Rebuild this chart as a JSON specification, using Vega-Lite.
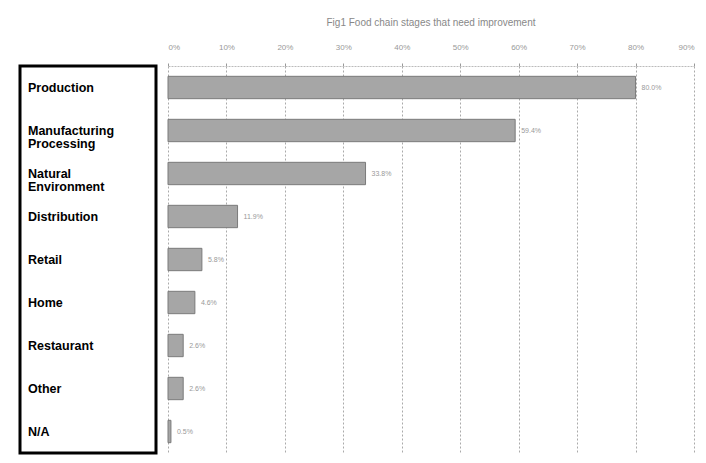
{
  "$schema": "https://vega.github.io/schema/vega-lite/v6.json",
  "background": "white",
  "padding": {"left": 18, "top": 18, "right": 10, "bottom": 4},
  "spacing": 9,
  "datasets": {
    "stages": [
      {"stage": "Production", "value": 0.80},
      {"stage": "Manufacturing\nProcessing", "value": 0.594},
      {"stage": "Natural\nEnvironment", "value": 0.338},
      {"stage": "Distribution", "value": 0.119},
      {"stage": "Retail", "value": 0.058},
      {"stage": "Home", "value": 0.046},
      {"stage": "Restaurant", "value": 0.026},
      {"stage": "Other", "value": 0.026},
      {"stage": "N/A", "value": 0.005}
    ]
  },
  "data": {"name": "stages"},
  "config": {
    "font": "Liberation Sans",
    "view": {"stroke": null}
  },
  "hconcat": [
    {
      "width": 136,
      "height": 387,
      "view": {"stroke": "black", "strokeWidth": 3},
      "mark": {"type": "text", "align": "left", "dx": 8, "fontSize": 12.5, "fontWeight": "bold", "color": "black", "lineBreak": "\n", "lineHeight": 13},
      "encoding": {
        "x": {"datum": 0, "type": "quantitative", "scale": {"domain": [0, 1]}, "axis": null},
        "y": {"field": "stage", "type": "nominal", "sort": null, "axis": null},
        "text": {"field": "stage"}
      }
    },
    {
      "width": 526,
      "height": 387,
      "title": {"text": "Fig1 Food chain stages that need improvement", "fontSize": 10, "fontWeight": "normal", "color": "#888", "offset": 15},
      "encoding": {
        "y": {"field": "stage", "type": "nominal", "sort": null, "axis": null, "scale": {"paddingInner": 0.48, "paddingOuter": 0.24}},
        "x": {
          "field": "value", "type": "quantitative",
          "scale": {"domain": [0, 0.9], "nice": false},
          "axis": {"orient": "top", "title": null, "format": ".0%", "values": [0, 0.1, 0.2, 0.3, 0.4, 0.5, 0.6, 0.7, 0.8, 0.9],
                   "labelColor": "#999", "labelFontSize": 8, "labelPadding": 12,
                   "domainColor": "#bbb", "domainDash": [2, 1], "tickColor": "#999", "tickSize": 3,
                   "grid": true, "gridColor": "#aaa", "gridDash": [2, 2], "gridWidth": 1}
        }
      },
      "layer": [
        {"mark": {"type": "bar", "color": "#a6a6a6", "stroke": "#7a7a7a", "strokeWidth": 1}},
        {"mark": {"type": "text", "align": "left", "dx": 6, "fontSize": 7, "color": "#999"},
         "encoding": {"text": {"field": "value", "format": ".1%"}}}
      ]
    }
  ]
}
